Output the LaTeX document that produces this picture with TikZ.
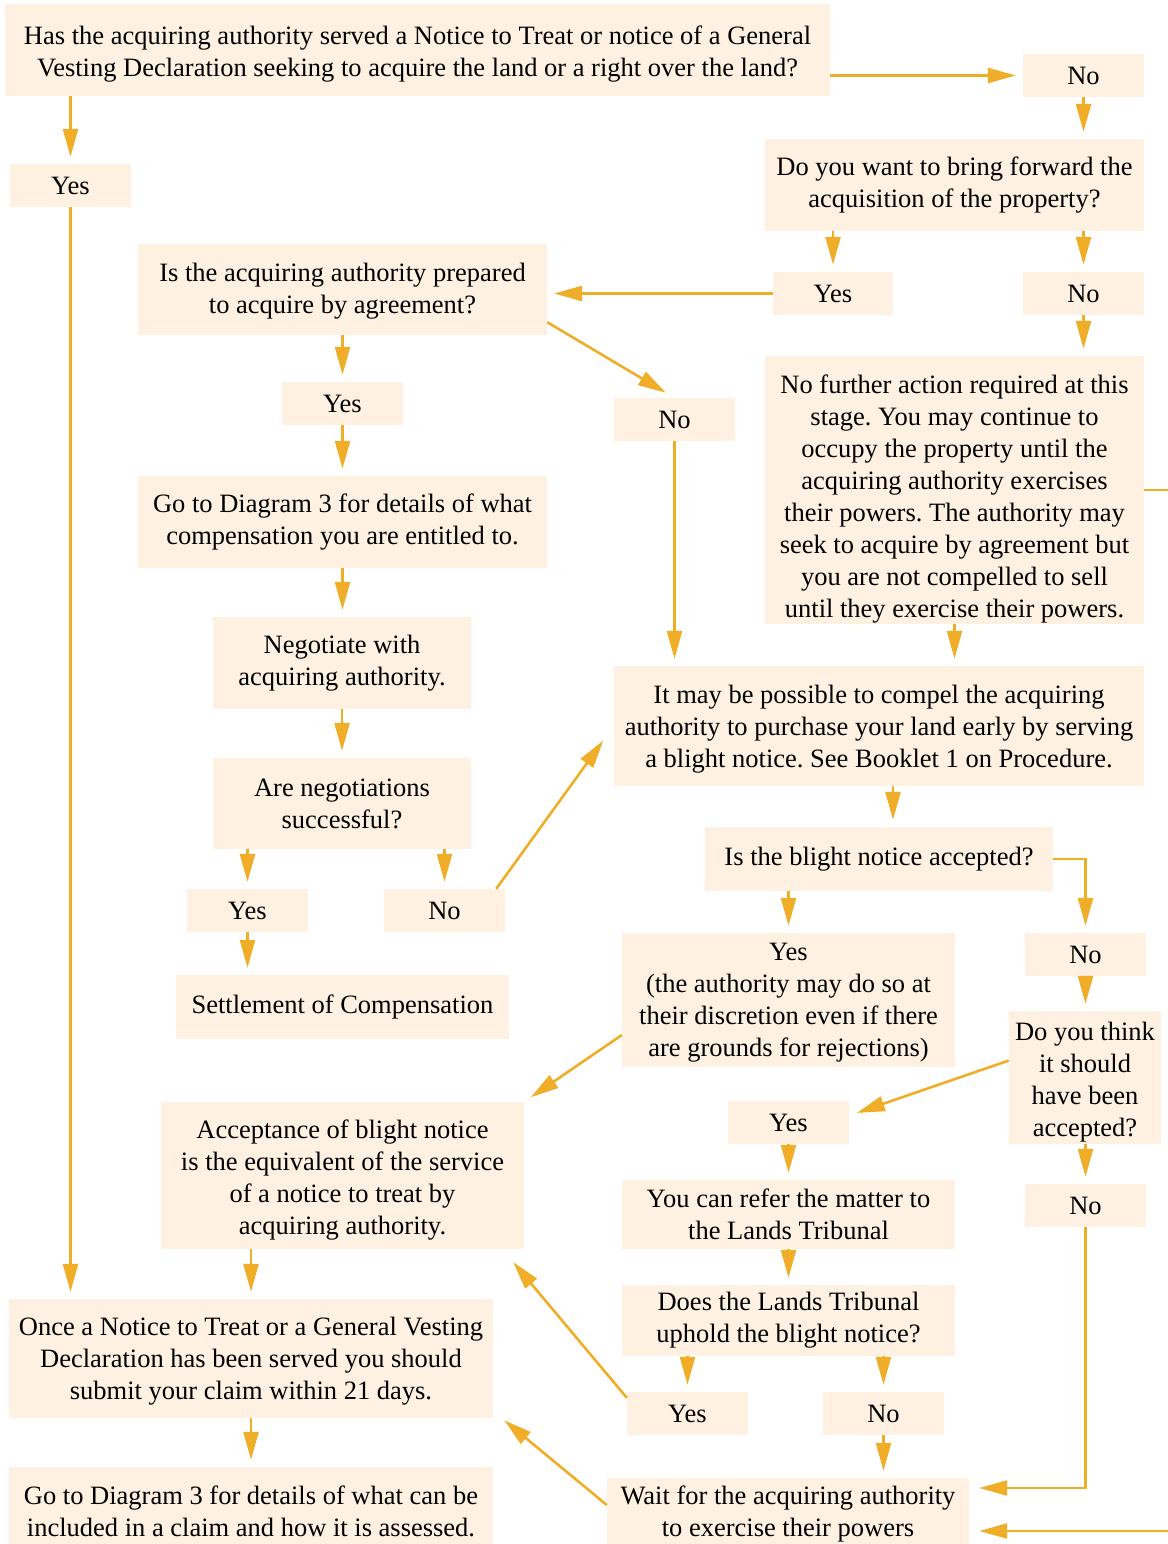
\documentclass[tikz,border=0pt]{standalone}
\usepackage{fontspec}
\setmainfont{Liberation Serif}
\usetikzlibrary{arrows.meta,calc}
\definecolor{boxfill}{RGB}{254,241,225}
\definecolor{arr}{RGB}{240,174,40}
\newcommand{\tup}[1]{\rule{0pt}{#1pt}}
\begin{document}
\frenchspacing
\begin{tikzpicture}[x=1pt,y=-1pt,
  box/.style={fill=boxfill,draw=none,inner sep=0pt,align=center,font=\fontsize{26.5}{32}\selectfont\frenchspacing,text=black},
  ar/.style={draw=arr,line width=2.6pt,-{Triangle[length=28pt,width=15pt]},shorten >=7pt}]
\useasboundingbox (0,0) rectangle (1167,1544);
\node[box,minimum width=825,minimum height=92] (q1) at (417.5,50) {\tup{26.5}Has the acquiring authority served a Notice to Treat or notice of a General\\Vesting Declaration seeking to acquire the land or a right over the land?};
\node[box,minimum width=121,minimum height=43] (no1) at (1083.5,75.5) {No};
\node[box,minimum width=121,minimum height=43] (yes1) at (70.5,185.5) {Yes};
\node[box,minimum width=379,minimum height=92] (q2) at (954.5,185) {Do you want to bring forward the\\acquisition of the property?};
\node[box,minimum width=120,minimum height=43] (yes2) at (833,293.5) {Yes};
\node[box,minimum width=121,minimum height=43] (no2) at (1083.5,293.5) {No};
\node[box,minimum width=409,minimum height=91] (q3) at (342.5,289.5) {\tup{22.5}Is the acquiring authority prepared\\to acquire by agreement?};
\node[box,minimum width=121,minimum height=43] (yes3) at (342.5,403.5) {Yes};
\node[box,minimum width=121,minimum height=43] (no3) at (674.5,419.5) {No};
\node[box,minimum width=379,minimum height=268] (nfa) at (954.5,490) {\tup{36.5}No further action required at this\\stage. You may continue to\\occupy the property until the\\acquiring authority exercises\\their powers. The authority may\\seek to acquire by agreement but\\you are not compelled to sell\\until they exercise their powers.};
\node[box,minimum width=409,minimum height=92] (god3a) at (342.5,522) {Go to Diagram 3 for details of what\\compensation you are entitled to.};
\node[box,minimum width=258,minimum height=92] (neg) at (342,663) {Negotiate with\\acquiring authority.};
\node[box,minimum width=530,minimum height=120] (blight) at (879,726) {\tup{24.5}It may be possible to compel the acquiring\\authority to purchase your land early by serving\\a blight notice. See Booklet 1 on Procedure.};
\node[box,minimum width=258,minimum height=91] (areneg) at (342,803.5) {Are negotiations\\successful?};
\node[box,minimum width=348,minimum height=64] (bacc) at (879,859) {Is the blight notice accepted?};
\node[box,minimum width=121,minimum height=43] (yes4) at (247.5,910.5) {Yes};
\node[box,minimum width=121,minimum height=43] (no4) at (444.5,910.5) {No};
\node[box,minimum width=333,minimum height=134] (yesb) at (788.5,1000) {\tup{23.5}Yes\\(the authority may do so at\\their discretion even if there\\are grounds for rejections)};
\node[box,minimum width=121,minimum height=43] (no5) at (1085.5,954.5) {No};
\node[box,minimum width=333,minimum height=64] (settle) at (342.5,1007) {Settlement of Compensation};
\node[box,minimum width=152,minimum height=133] (think) at (1085,1077.5) {\tup{27.5}Do you think\\it should\\have been\\accepted?};
\node[box,minimum width=363,minimum height=147] (accept) at (342.5,1175.5) {\tup{28.5}Acceptance of blight notice\\is the equivalent of the service\\of a notice to treat by\\acquiring authority.};
\node[box,minimum width=121,minimum height=43] (yes6) at (788.5,1122.5) {Yes};
\node[box,minimum width=333,minimum height=69] (refer) at (788.5,1214.5) {You can refer the matter to\\the Lands Tribunal};
\node[box,minimum width=121,minimum height=43] (no6) at (1085.5,1205.5) {No};
\node[box,minimum width=484,minimum height=119] (once) at (251,1358.5) {\tup{24.5}Once a Notice to Treat or a General Vesting\\Declaration has been served you should\\submit your claim within 21 days.};
\node[box,minimum width=333,minimum height=71] (uphold) at (788.5,1320.5) {Does the Lands Tribunal\\uphold the blight notice?};
\node[box,minimum width=121,minimum height=43] (yes7) at (687.5,1413.5) {Yes};
\node[box,minimum width=121,minimum height=43] (no7) at (883.5,1413.5) {No};
\node[box,minimum width=484,minimum height=77] (god3b) at (251,1505.5) {\tup{30.5}Go to Diagram 3 for details of what can be\\included in a claim and how it is assessed.};
\node[box,minimum width=362,minimum height=66] (wait) at (788,1511) {\tup{24.5}Wait for the acquiring authority\\to exercise their powers};
% connectors
\draw[ar] (q1.east |- no1.west) -- (no1.west);
\draw[ar] (no1.south) -- (no1.south |- q2.north);
\draw[ar] (q1.south -| yes1) -- (yes1.north);
\draw[ar] (yes1.south) -- (yes1.south |- once.north);
\draw[ar] (q2.south -| yes2) -- (yes2.north);
\draw[ar] (q2.south -| no2) -- (no2.north);
\draw[ar] (yes2.west) -- (yes2.west -| q3.east);
\draw[ar] (no2.south) -- (no2.south |- nfa.north);
\draw[ar] (q3.south -| yes3) -- (yes3.north);
\draw[ar,shorten >=10pt] ($(q3.south east)+(0,-13)$) -- (no3.north);
\draw[ar] (yes3.south) -- (yes3.south |- god3a.north);
\draw[ar] (no3.south) -- (no3.south |- blight.north);
\draw[ar] (god3a.south) -- (god3a.south |- neg.north);
\draw[ar] (neg.south) -- (neg.south |- areneg.north);
\draw[ar] (nfa.south) -- (nfa.south |- blight.north);
\draw[ar,shorten >=10pt] (nfa.east) -- ++(30,0) |- ($(wait.east)+(0,20)$);
\draw[ar] (areneg.south -| yes4) -- (yes4.north);
\draw[ar] (areneg.south -| no4) -- (no4.north);
\draw[ar,shorten >=18pt] ($(no4.north east)+(-9,0)$) -- (blight.west);
\draw[ar] (yes4.south) -- (yes4.south |- settle.north);
\draw[ar] ($(blight.south)+(14,0)$) -- ($(bacc.north)+(14,0)$);
\draw[ar] (bacc.south -| yesb) -- (yesb.north);
\draw[ar] (bacc.east) -| (no5.north);
\draw[ar] (no5.south) -- (no5.south |- think.north);
\draw[ar,shorten >=8pt] ($(yesb.west)+(0,35)$) -- (accept.north east);
\draw[ar,shorten >=8pt] ($(think.west)+(0,-17)$) -- ($(yes6.east)+(0,-7)$);
\draw[ar] (think.south -| no6) -- (no6.north);
\draw[ar] (yes6.south) -- (yes6.south |- refer.north);
\draw[ar] (accept.south -| once) -- (once.north);
\draw[ar,shorten >=10pt] (no6.south) |- ($(wait.east)+(0,-23)$);
\draw[ar] (refer.south) -- (refer.south |- uphold.north);
\draw[ar] (uphold.south -| yes7) -- (yes7.north);
\draw[ar] (uphold.south -| no7) -- (no7.north);
\draw[ar,shorten >=0pt] ($(yes7.north west)+(0,6)$) -- ($(accept.south east)+(-11,13)$);
\draw[ar] (no7.south) -- (no7.south |- wait.north);
\draw[ar,shorten >=0pt] ($(wait.west)+(0,-6)$) -- ($(once.south east)+(11,2)$);
\draw[ar] (once.south) -- (once.south |- god3b.north);
\end{tikzpicture}
\end{document}
